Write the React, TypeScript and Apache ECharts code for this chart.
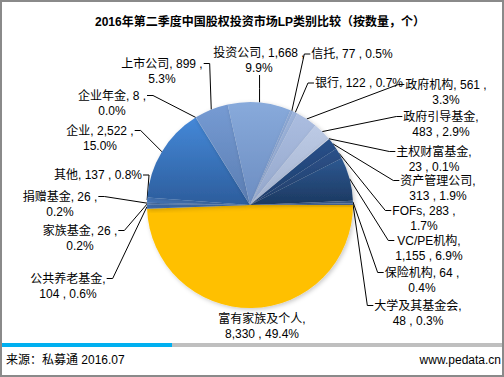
import React, { useEffect, useRef } from "react";
import * as echarts from "echarts";

const titleText = "2016年第二季度中国股权投资市场LP类别比较（按数量，个）";
const sourceText = "来源：私募通 2016.07";
const siteText = "www.pedata.cn";

const categories = [
  "富有家族及个人", "公共养老基金", "家族基金", "捐赠基金", "其他", "企业", "企业年金",
  "上市公司", "投资公司", "信托", "银行", "政府机构", "政府引导基金", "主权财富基金",
  "资产管理公司", "FOFs", "VC/PE机构", "保险机构", "大学及其基金会",
];
const values = [8330, 104, 26, 26, 137, 2522, 8, 899, 1668, 77, 122, 561, 483, 23, 313, 283, 1155, 64, 48];
// where each label wraps: after the name, after the value, or not at all
const labelBreaks = [
  "name", "name", "value", "value", "none", "value", "value", "value", "value", "none",
  "none", "value", "name", "name", "name", "value", "name", "value", "name",
];

// styles (top colour, bottom colour of each slice)
const sliceColors: [string, string][] = [
  ["#FFC000", "#FFC000"],
  ["#4677BE", "#3C69A8"],
  ["#5585C8", "#4A76B5"],
  ["#3B6CB0", "#335F9C"],
  ["#4A7DC2", "#3F6DAC"],
  ["#4588D8", "#2C5D9C"],
  ["#5B8BCB", "#5B8BCB"],
  ["#769BD3", "#5A7DB2"],
  ["#88AADB", "#6C8DC1"],
  ["#8EA9D5", "#7F97C2"],
  ["#9CB3DB", "#8CA2C8"],
  ["#ABBDE0", "#94A7CB"],
  ["#BCCAE5", "#A6B4CF"],
  ["#CFD8EB", "#B9C3D8"],
  ["#28508A", "#1F3E6C"],
  ["#2C5189", "#223F6B"],
  ["#2D5891", "#1C3961"],
  ["#3C5E8C", "#34537D"],
  ["#4A6A99", "#405D87"],
];

// layout: label block centres (px)
const labelAnchors: [number, number][] = [
  [262, 326], [68, 286], [80, 238], [60, 204], [98, 175], [100, 138], [112, 103],
  [162, 71], [259, 60], [352, 54], [359, 83], [446, 92], [441, 124], [434, 159],
  [438, 188], [424, 218], [429, 248], [422, 280], [418, 313],
];

const CX = 250;
const CY = 205;
const R = 103;
const START = 0;
const LINE_H = 15;

const total = values.reduce((a, b) => a + b, 0);
const cumBefore = values.map((_, i) => values.slice(0, i).reduce((a, b) => a + b, 0));
const fmt = (n: number) => n.toLocaleString("en-US");

export default function App() {
  const ref = useRef<HTMLDivElement>(null);
  useEffect(() => {
    if (!ref.current) return;
    const chart = echarts.init(ref.current, undefined, { renderer: "svg" });
    const font = "'Liberation Sans', Arial, 'Noto Sans CJK SC', sans-serif";
    chart.setOption({
      animation: false,
      backgroundColor: "#ffffff",
      graphic: [
        {
          type: "rect",
          shape: { x: 1, y: 1, width: 502, height: 375 },
          style: { fill: "none", stroke: "#8a8a8a", lineWidth: 2 },
          silent: true,
        },
        {
          type: "text",
          x: 260,
          y: 22,
          style: {
            text: titleText,
            font: "bold 12px 'Liberation Sans', Arial, 'Noto Sans CJK SC', sans-serif",
            fill: "#000",
            textAlign: "center",
            textVerticalAlign: "middle",
          },
        },
        {
          type: "rect",
          shape: { x: 2, y: 343, width: 170, height: 4 },
          style: { fill: "#00B0F0" },
        },
        {
          type: "rect",
          shape: { x: 172, y: 343, width: 330, height: 4 },
          style: { fill: "#BFBFBF" },
        },
        {
          type: "text",
          x: 6,
          y: 360,
          style: {
            text: sourceText,
            font: "12px 'Liberation Sans', Arial, 'Noto Sans CJK SC', sans-serif",
            fill: "#000",
            textAlign: "left",
            textVerticalAlign: "middle",
          },
        },
        {
          type: "text",
          x: 501,
          y: 360,
          style: {
            text: siteText,
            font: "12px 'Liberation Sans', Arial, 'Noto Sans CJK SC', sans-serif",
            fill: "#000",
            textAlign: "right",
            textVerticalAlign: "middle",
          },
        },
      ],
      series: [
        {
          type: "pie",
          center: [CX, CY],
          radius: R,
          startAngle: START,
          clockwise: true,
          avoidLabelOverlap: false,
          silent: true,
          data: categories.map((name, i) => ({
            name,
            value: values[i],
            itemStyle: {
              color: {
                type: "linear",
                x: 0,
                y: 0,
                x2: 0,
                y2: 1,
                colorStops: [
                  { offset: 0, color: sliceColors[i][0] },
                  { offset: 1, color: sliceColors[i][1] },
                ],
              },
            },
            labelLine: i === 0 ? { show: false } : undefined,
          })),
          itemStyle: {
            borderWidth: 0,
            shadowBlur: 4,
            shadowOffsetX: 1.5,
            shadowOffsetY: 1.5,
            shadowColor: "rgba(0,0,0,0.22)",
          },
          label: {
            show: true,
            position: "outside",
            fontSize: 12,
            lineHeight: LINE_H,
            fontFamily: font,
            color: "#000",
            formatter: (p: any) => {
              const i = p.dataIndex;
              const pct = ((values[i] / total) * 100).toFixed(1) + "%";
              const v = fmt(values[i]);
              const name = categories[i];
              if (labelBreaks[i] === "name") return `${name},\n${v} , ${pct}`;
              if (labelBreaks[i] === "value") return `${name}, ${v} ,\n${pct}`;
              return `${name}, ${v} , ${pct}`;
            },
          },
          labelLine: {
            show: true,
            smooth: false,
            lineStyle: { color: "#000", width: 1, shadowBlur: 0, shadowColor: "transparent" },
          },
          labelLayout: (params: any) => {
            const i = params.dataIndex;
            const [lx, ly] = labelAnchors[i];
            const w = params.labelRect.width;
            const h = params.labelRect.height;
            const left = lx - w / 2;
            const right = lx + w / 2;
            const top = ly - h / 2;
            const bottom = ly + h / 2;
            const mid = START - ((cumBefore[i] + values[i] / 2) / total) * 360;
            const rad = (mid * Math.PI) / 180;
            const ex = CX + R * Math.cos(rad);
            const ey = CY - R * Math.sin(rad);
            const line1 = top + LINE_H / 2;
            let pts: number[][];
            if (ex >= left && ex <= right) {
              const ya = ey < top ? top : bottom;
              pts = [[ex, ey], [ex, (ey + ya) / 2], [ex, ya]];
            } else if (ex < left) {
              pts = [[ex, ey], [left - 7, line1], [left - 1, line1]];
            } else {
              pts = [[ex, ey], [right + 7, line1], [right + 1, line1]];
            }
            return { x: lx, y: ly, align: "center", verticalAlign: "middle", labelLinePoints: pts };
          },
        },
      ],
    });
    return () => chart.dispose();
  }, []);
  return (
    <div
      ref={ref}
      style={{ position: "absolute", left: 0, top: 0, width: 504, height: 377 }}
    />
  );
}
